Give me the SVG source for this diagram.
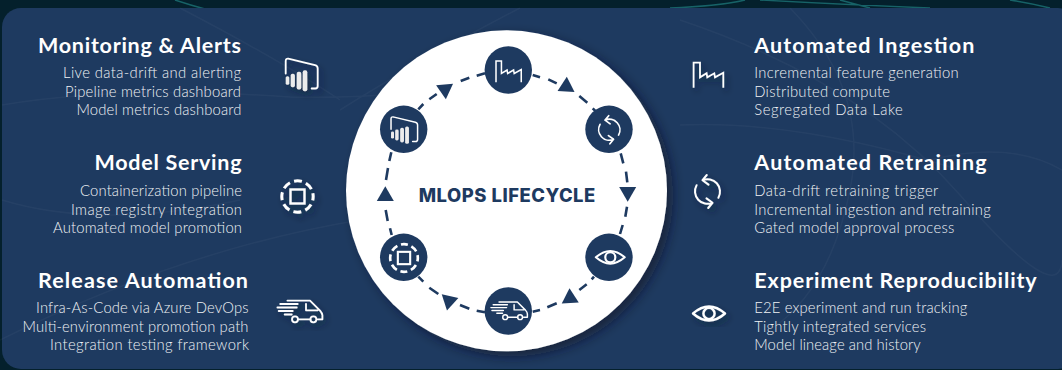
<svg xmlns="http://www.w3.org/2000/svg" xmlns:xlink="http://www.w3.org/1999/xlink" width="1062" height="370" viewBox="0 0 1062 370">
<style>
.h{font:700 21.5px Lato,"Liberation Sans",sans-serif;fill:#fff}
.s{font:300 14.8px Lato,"Liberation Sans",sans-serif;fill:#f0f2f5}
.e{text-anchor:end}
.t{font:800 18.4px Inter,"Liberation Sans",sans-serif;fill:#1e3a60}
.i{fill:none;stroke:#fff;stroke-width:1.8;stroke-linejoin:round;stroke-linecap:round}
.bg{fill:none;stroke:#fff;stroke-width:1.5;opacity:.035}
.tl{fill:none;stroke:#1f7f80;stroke-width:1.5;opacity:.7}
.n{fill:#1e3a60}
.a{fill:#1e3a60}
.d{fill:none;stroke:#1e3a60;stroke-width:2.6}
</style>
<defs>
<filter id="sh" x="-30%" y="-30%" width="170%" height="170%"><feDropShadow dx="3" dy="4" stdDeviation="3" flood-color="#0c1a30" flood-opacity=".55"/></filter>
<filter id="cs" x="-10%" y="-10%" width="125%" height="125%"><feDropShadow dx="6" dy="5" stdDeviation="6" flood-color="#0a1628" flood-opacity=".6"/></filter>
<path id="tri" class="a" d="M0-9.8 8.5 5H-8.5Z"/>
<g id="ic-factory"><path class="i" style="stroke-linecap:butt;stroke-linejoin:miter" d="M-14.7 12.7V-12.3H-8.3V2.3L-1.7-1.7-1 2.3 6-1.7 6.7 2.3 15-2.3V12.7"/></g>
<g id="ic-sync"><g id="sync-half"><path class="i" style="stroke-width:2" d="M-5-11.3A12.5 12.5 0 0 1 10.9 6.3M-.7-16.5-5-11.3 1-6.9"/></g><use href="#sync-half" transform="rotate(180)"/></g>
<g id="ic-eye"><path class="i" style="stroke-width:2.4" d="M-16 0Q-8-7 0-7 8-7 16 0 8 7 0 7-8 7-16 0Z"/><circle class="i" style="stroke-width:2.4" r="5.6"/></g>
<g id="ic-van"><path class="i" d="M-12.3-10.7H10.3L20.3-.7Q22.7 2 22.7 4V8H18M-1.5 8H10.8M6.3-7.5V-1H18"/><circle class="i" cx="-4.7" cy="8" r="3"/><circle class="i" cx="13.7" cy="8" r="3"/><path class="i" d="M-19.5-7.3H-2M-22.3-3.8H-3M-21-.3H-7M-15 3.2H-8"/></g>
<g id="ic-square"><circle r="15.7" fill="none" stroke="#fff" stroke-width="3" stroke-dasharray="8 4.33" stroke-dashoffset="4"/><rect x="-7" y="-7" width="14" height="14" fill="none" stroke="#fff" stroke-width="2.4"/></g>
<g id="ic-bi"><path class="i" d="M-16-1V-13.3Q-16-16-13.5-15.8L13.3-9.3Q16-8.7 16-6V11.5Q16 14 13.5 14H10"/><g fill="#ececec"><rect x="-16" y="1.7" width="3.6" height="8.6" rx="1.6"/><rect x="-11" y="-.7" width="4.2" height="13.4" rx="1.8"/><rect x="-5" y="-2.7" width="4.6" height="17.7" rx="2"/><rect x="1" y="-4.3" width="4.6" height="21" rx="2"/></g></g>
</defs>

<g id="background">
<rect width="1062" height="370" fill="#04202c"/>
<path class="tl" d="M175 0Q190 5 205 9M670 8Q720 6 745 0M760 0Q850 5 930 8M1010 0Q1030 3 1050 8M840 0L870 8"/>
<rect x="2" y="8" width="1075" height="361" rx="19" fill="#1e3a60"/>
<path class="bg" d="M2 105Q120 85 290 97 420 100 560 70M180 8Q280 60 340 100M520 8Q420 60 340 110M2 200Q100 230 240 200M680 20Q860 80 960 195T1062 260M930 160Q1010 140 1062 170M680 125Q800 120 960 170M790 8Q870 90 850 190T770 330M0 340Q180 250 360 220"/>
</g>

<g id="hub">
<circle cx="506.5" cy="190.8" r="160.5" fill="#fff" filter="url(#cs)"/>
<text class="t" x="507" y="201.7" text-anchor="middle" textLength="176.5">MLOPS LIFECYCLE</text>
</g>

<g id="connectors">
<path class="d" d="M532.7 75 540 77.3M548.3 79.3 556.7 83.3M579.3 96 587.3 102.7M592.7 108.3 596 111.7"/>
<path class="d" d="M620.7 153.3 623.3 163.3M626 171.7 627.3 182.3M627 206.7 625.3 216.7M622.7 225 620 234"/>
<path class="d" d="M594 276.7 591.7 279.3M586.7 284.3 579.3 290M556.7 303.3 547.3 307.3M540 310 532.7 311.7"/>
<path class="d" d="M485 312.3 476.7 310.7M469.3 308.7 460 305M438.3 294 429.3 287.7M423.3 281.7 418.3 276.7"/>
<path class="d" d="M391.7 235 390 228.3M387.7 221 385.7 210M386 180 388 168M389.3 161 391.3 152.3"/>
<path class="d" d="M418.3 109.3 423.3 104M429.3 99.3 436.7 94M460.7 81 469.3 77.7M476.7 75.7 485 73.3"/>
<use href="#tri" transform="translate(566.3 86.5) rotate(3)"/>
<use href="#tri" transform="translate(627.7 192) rotate(180)"/>
<use href="#tri" transform="translate(570 298) rotate(-3)"/>
<use href="#tri" transform="translate(449 301) rotate(192)"/>
<use href="#tri" transform="translate(385.3 196)"/>
<use href="#tri" transform="translate(445 89.5) rotate(175)"/>
</g>

<g id="node-ingestion"><circle class="n" cx="508.3" cy="70" r="23.7"/><use href="#ic-factory" transform="translate(508.5 71.5) scale(.85)"/></g>
<g id="node-retraining"><circle class="n" cx="609" cy="129.3" r="23.7"/><use href="#ic-sync" transform="translate(609.3 129.7) scale(.85)"/></g>
<g id="node-experiment"><circle class="n" cx="609" cy="257.3" r="23.7"/><use href="#ic-eye" transform="translate(610.3 257.3) scale(.9)"/></g>
<g id="node-release"><circle class="n" cx="508.3" cy="311" r="23.7"/><use href="#ic-van" transform="translate(509 310.7) scale(.81)"/></g>
<g id="node-serving"><circle class="n" cx="403.7" cy="257.3" r="23.7"/><use href="#ic-square" transform="translate(404 258) scale(.88)"/></g>
<g id="node-monitoring"><circle class="n" cx="403.7" cy="129.3" r="23.7"/><use href="#ic-bi" transform="translate(404.3 130) scale(.83)"/></g>

<g id="monitoring">
<text class="h e" x="241" y="53" textLength="203">Monitoring &amp; Alerts</text>
<text class="s e" x="241" y="78" textLength="178">Live data-drift and alerting</text>
<text class="s e" x="241" y="97" textLength="176">Pipeline metrics dashboard</text>
<text class="s e" x="241.5" y="115.3" textLength="165">Model metrics dashboard</text>
<use href="#ic-bi" transform="translate(301.7 74.5)" filter="url(#sh)"/>
</g>
<g id="serving">
<text class="h e" x="241.5" y="170" textLength="147">Model Serving</text>
<text class="s e" x="242" y="196" textLength="162">Containerization pipeline</text>
<text class="s e" x="242" y="215" textLength="171">Image registry integration</text>
<text class="s e" x="242" y="232.5" textLength="189">Automated model promotion</text>
<use href="#ic-square" transform="translate(297.5 196.5)" filter="url(#sh)"/>
</g>
<g id="release">
<text class="h e" x="248" y="288" textLength="210">Release Automation</text>
<text class="s e" x="248.5" y="313" textLength="212.5">Infra-As-Code via Azure DevOps</text>
<text class="s e" x="248.5" y="332" textLength="226">Multi-environment promotion path</text>
<text class="s e" x="249" y="350" textLength="199">Integration testing framework</text>
<use href="#ic-van" transform="translate(299.7 311.3)" filter="url(#sh)"/>
</g>
<g id="ingestion">
<text class="h" x="754.3" y="53" textLength="220">Automated Ingestion</text>
<text class="s" x="754.3" y="78" textLength="204.4">Incremental feature generation</text>
<text class="s" x="754.3" y="97" textLength="135.7">Distributed compute</text>
<text class="s" x="754.3" y="115.3" textLength="148.4">Segregated Data Lake</text>
<use href="#ic-factory" transform="translate(708.3 75)" filter="url(#sh)"/>
</g>
<g id="retraining">
<text class="h" x="754.3" y="170" textLength="232.4">Automated Retraining</text>
<text class="s" x="754.3" y="196" textLength="184">Data-drift retraining trigger</text>
<text class="s" x="754.3" y="215" textLength="236.4">Incremental ingestion and retraining</text>
<text class="s" x="754.3" y="232.5" textLength="200">Gated model approval process</text>
<use href="#ic-sync" transform="translate(707.5 191.5)" filter="url(#sh)"/>
</g>
<g id="experiment">
<text class="h" x="754.3" y="288" textLength="282.4">Experiment Reproducibility</text>
<text class="s" x="754.3" y="313" textLength="213">E2E experiment and run tracking</text>
<text class="s" x="754.3" y="332" textLength="171.7">Tightly integrated services</text>
<text class="s" x="754.3" y="350" textLength="166.4">Model lineage and history</text>
<use href="#ic-eye" transform="translate(709 313.5)" filter="url(#sh)"/>
</g>
</svg>
